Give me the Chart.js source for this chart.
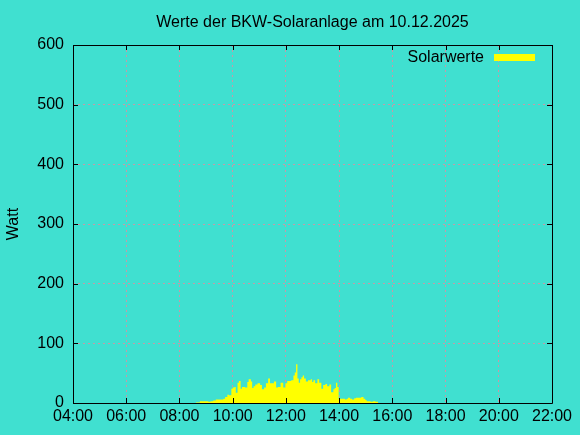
<!DOCTYPE html>
<html>
<head>
<meta charset="utf-8">
<script src="https://cdn.jsdelivr.net/npm/chart.js@4"></script>
<style>
html,body{margin:0;padding:0;background:#40E0D0;}
canvas{display:block;}
</style>
</head>
<body>
<canvas id="c" width="580" height="435"></canvas>
<script>
const chartTitle = "Werte der BKW-Solaranlage am 10.12.2025";
const seriesName = "Solarwerte";
const yAxisLabel = "Watt";
const xTickLabels = ["04:00","06:00","08:00","10:00","12:00","14:00","16:00","18:00","20:00","22:00"];
const yTickValues = [0,100,200,300,400,500,600];

const times = ["08:37","08:46","09:05","09:10","09:16","09:22","09:39","09:43","09:48","09:52",
  "09:57","10:00","10:04","10:07","10:11","10:14","10:18","10:21","10:28","10:33",
  "10:36","10:41","10:44","10:47","10:51","10:56","11:02","11:06","11:11","11:15",
  "11:20","11:24","11:33","11:38","11:42","11:48","11:54","11:59","12:03","12:12",
  "12:17","12:20","12:23","12:26","12:29","12:32","12:35","12:38","12:41","12:45",
  "12:50","12:56","12:59","13:02","13:06","13:11","13:15","13:20","13:24","13:29",
  "13:33","13:38","13:42","13:47","13:50","13:53","13:56","13:59","14:13","14:17",
  "14:20","14:25","14:29","14:34","14:38","14:50","14:55","14:59","15:02","15:11",
  "15:16","15:22","15:28"];
const watts = [1,3,2,3,4,6,7,10,14,13,
  24,26,27,17,34,37,24,27,26,35,
  40,36,25,28,31,33,30,23,26,33,
  41,33,36,26,27,34,26,33,37,38,
  46,51,65,41,34,40,43,46,41,36,
  38,40,35,38,33,40,34,24,30,32,
  28,31,18,23,25,34,27,7,6,7,
  9,7,6,8,9,10,7,5,3,2,
  3,2,0];

const toMin = s => { const [h,m] = s.split(":").map(Number); return h*60+m; };
const fmt = v => { const h = Math.floor(v/60), m = v%60; return String(h).padStart(2,"0")+":"+String(m).padStart(2,"0"); };
const tickMins = xTickLabels.map(toMin);
const points = times.map((t,i)=>({x: toMin(t), y: watts[i]}));

const FONT = "'Liberation Sans', Arial, sans-serif";
const gridColor = "rgba(205,150,165,0.95)";

const framePlugin = {
  id: "frame",
  beforeDraw(chart){
    const ctx = chart.ctx;
    ctx.save();
    ctx.fillStyle = "#40E0D0";
    ctx.fillRect(0,0,chart.width,chart.height);
    ctx.restore();
  },
  afterDatasetsDraw(chart){
    const ctx = chart.ctx;
    const a = chart.chartArea;
    const xs = chart.scales.x, ys = chart.scales.y;
    ctx.save();
    ctx.strokeStyle = "#000";
    ctx.lineWidth = 1;
    ctx.setLineDash([]);
    ctx.beginPath();
    ctx.rect(Math.round(a.left)+0.5, Math.round(a.top)+0.5, Math.round(a.right-a.left), Math.round(a.bottom-a.top));
    ctx.stroke();
    const tl = 5;
    ctx.beginPath();
    tickMins.forEach(v=>{
      const px = Math.round(xs.getPixelForValue(v))+0.5;
      ctx.moveTo(px, a.bottom); ctx.lineTo(px, a.bottom-tl);
      ctx.moveTo(px, a.top); ctx.lineTo(px, a.top+tl);
    });
    yTickValues.forEach(v=>{
      const py = Math.round(ys.getPixelForValue(v))+0.5;
      ctx.moveTo(a.left, py); ctx.lineTo(a.left+tl, py);
      ctx.moveTo(a.right, py); ctx.lineTo(a.right-tl, py);
    });
    ctx.stroke();
    // title
    ctx.fillStyle = "#000";
    ctx.font = "16px " + FONT;
    ctx.textAlign = "center";
    ctx.textBaseline = "alphabetic";
    ctx.fillText(chartTitle, (a.left+a.right)/2, 27);
    // legend
    ctx.textAlign = "right";
    ctx.fillText(seriesName, 484, 62);
    ctx.fillStyle = "#FFFF00";
    ctx.fillRect(494, 54, 41, 7);
    ctx.restore();
  }
};

new Chart(document.getElementById("c"), {
  type: "line",
  data: {
    datasets: [{
      label: seriesName,
      data: points,
      stepped: true,
      fill: "origin",
      backgroundColor: "#FFFF00",
      borderColor: "#FFFF00",
      borderWidth: 0,
      pointRadius: 0,
      tension: 0
    }]
  },
  options: {
    responsive: false,
    animation: false,
    devicePixelRatio: 1,
    layout: { padding: { top: 45, right: 28, left: 0, bottom: 0 } },
    plugins: { legend: { display: false }, title: { display: false }, tooltip: { enabled: false } },
    scales: {
      x: {
        type: "linear",
        min: tickMins[0],
        max: tickMins[tickMins.length-1],
        afterFit: s => { s.height = 32; },
        afterBuildTicks: s => { s.ticks = tickMins.map(v=>({value:v})); },
        ticks: {
          autoSkip: false, maxRotation: 0, padding: 4,
          color: "#000",
          font: { family: FONT, size: 16 },
          callback: v => xTickLabels[tickMins.indexOf(v)] ?? fmt(v)
        },
        grid: { color: gridColor, lineWidth: 1, drawTicks: false },
        border: { display: false, dash: [2,3] }
      },
      y: {
        min: 0, max: 600,
        afterFit: s => { s.width = 73; },
        afterBuildTicks: s => { s.ticks = yTickValues.map(v=>({value:v})); },
        ticks: {
          padding: 9, color: "#000",
          font: { family: FONT, size: 16 }
        },
        title: { display: true, text: yAxisLabel, color: "#000", font: { family: FONT, size: 16 }, padding: { top: 4, bottom: 0 } },
        grid: { color: gridColor, lineWidth: 1, drawTicks: false },
        border: { display: false, dash: [2,3] }
      }
    }
  },
  plugins: [framePlugin]
});
</script>
</body>
</html>
